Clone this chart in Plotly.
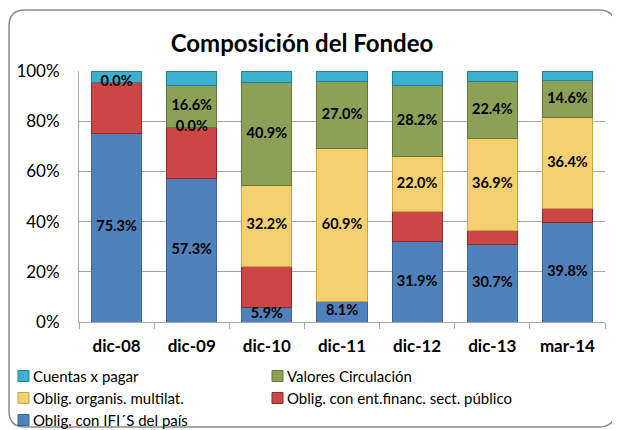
import plotly.graph_objects as go

categories = ["dic-08", "dic-09", "dic-10", "dic-11", "dic-12", "dic-13", "mar-14"]

ifis_pais = [75.3, 57.3, 5.9, 8.1, 31.9, 30.7, 39.8]
ent_financ = [20.3, 20.2, 16.4, 0.0, 12.0, 5.7, 5.3]
multilat = [None, 0.0, 32.2, 60.9, 22.0, 36.9, 36.4]
valores = [0.0, 16.6, 40.9, 27.0, 28.2, 22.4, 14.6]
cuentas = [4.4, 5.9, 4.6, 4.0, 5.9, 4.3, 3.9]

series_names = ["Oblig. con IFI´S del país", "Oblig. con ent.financ. sect. público",
                "Oblig. organis. multilat.", "Valores Circulación", "Cuentas x pagar"]
series_values = [ifis_pais, ent_financ, multilat, valores, cuentas]
series_colors = ["#4F81BD", "#CC4646", "#F5D06F", "#8CA058", "#3BB0CF"]
series_edges = ["#3A6598", "#8E2B2B", "#C9A445", "#66793A", "#24819A"]
series_labeled = [True, False, True, True, False]

FONT = "Lato"
fig = go.Figure()

# the page body adds an 8px offset; work in figure pixels = reference - 8
OFF = 8
W, H = 612, 422
L, R, T, B = 79 - OFF, 605 - OFF, 71 - OFF, 322 - OFF
pw, ph = R - L, B - T
def px(x):
    return (x - OFF - L) / pw
def py(y):
    return (B - (y - OFF)) / ph

base = [0.0] * len(categories)
label_x, label_y, label_t = [], [], []
for name, vals, col, edge, labeled in zip(series_names, series_values, series_colors,
                                          series_edges, series_labeled):
    fig.add_trace(go.Bar(
        x=categories, y=vals, name=name, showlegend=False,
        marker=dict(color=col, line=dict(color=edge, width=1)),
    ))
    for i, v in enumerate(vals):
        if v is None:
            continue
        if labeled:
            label_x.append(categories[i])
            label_y.append(base[i] + v / 2)
            label_t.append(f"{v:.1f}%")
        base[i] += v

fig.add_trace(go.Scatter(
    x=label_x, y=label_y, text=label_t, mode="text",
    textfont=dict(family=FONT, size=14.5, color="black", weight="bold"),
    showlegend=False, hoverinfo="skip", cliponaxis=False,
))

shapes = []
annotations = []

# rounded border (reference pixel coords)
x0, x1, y0, y1 = 9, 615, 10, 427
r = 16
path = (
    f"M {px(x0 + r)},{py(y0)} L {px(x1 - r)},{py(y0)} "
    f"Q {px(x1)},{py(y0)} {px(x1)},{py(y0 + r)} "
    f"L {px(x1)},{py(y1 - r)} Q {px(x1)},{py(y1)} {px(x1 - r)},{py(y1)} "
    f"L {px(x0 + r)},{py(y1)} Q {px(x0)},{py(y1)} {px(x0)},{py(y1 - r)} "
    f"L {px(x0)},{py(y0 + r)} Q {px(x0)},{py(y0)} {px(x0 + r)},{py(y0)} Z"
)
shapes.append(dict(type="path", xref="paper", yref="paper", path=path,
                   line=dict(color="#8C8C8C", width=1.5), layer="below"))

# manual legend (order: top of stack first)
legend_order = [4, 3, 2, 1, 0]
legend_pos = [(18, 376), (272, 376), (18, 398), (272, 398), (18, 420)]
for k, (lx, ly) in zip(legend_order, legend_pos):
    shapes.append(dict(type="rect", xref="paper", yref="paper",
                       x0=px(lx), x1=px(lx + 11), y0=py(ly - 5.5), y1=py(ly + 5.5),
                       fillcolor=series_colors[k], line=dict(color=series_edges[k], width=1)))
    annotations.append(dict(text=series_names[k], xref="paper", yref="paper",
                            x=px(lx + 13), y=py(ly), xanchor="left", yanchor="middle",
                            showarrow=False,
                            font=dict(family=FONT, size=15, color="black")))

fig.update_layout(
    width=W, height=H,
    margin=dict(l=L, r=W - R, t=T, b=H - B, autoexpand=False),
    barmode="stack", bargap=0.333,
    paper_bgcolor="white", plot_bgcolor="white",
    font=dict(family=FONT, color="black"),
    title=dict(text="<b>Composición del Fondeo</b>", x=(302 - OFF) / W, xanchor="center",
               y=1 - (44 - OFF) / H, yanchor="middle",
               font=dict(family=FONT, size=24, color="black")),
    showlegend=False,
    shapes=shapes,
    annotations=annotations,
    xaxis=dict(type="category", showline=True, linecolor="#A6A6A6", linewidth=1,
               ticks="outside", tickson="boundaries", ticklen=6, tickcolor="#A6A6A6",
               tickfont=dict(family=FONT, size=17, color="black", weight="bold"),
               ticklabelstandoff=9,
               showgrid=False, automargin=False),
    yaxis=dict(range=[0, 100], dtick=20, ticksuffix="%", showline=True,
               linecolor="#A6A6A6", linewidth=1, showgrid=True, gridcolor="#A6A6A6",
               ticks="", tickfont=dict(family=FONT, size=17, color="black"),
               ticklabelstandoff=15,
               zeroline=False, automargin=False),
)

fig.write_html("out.html")
